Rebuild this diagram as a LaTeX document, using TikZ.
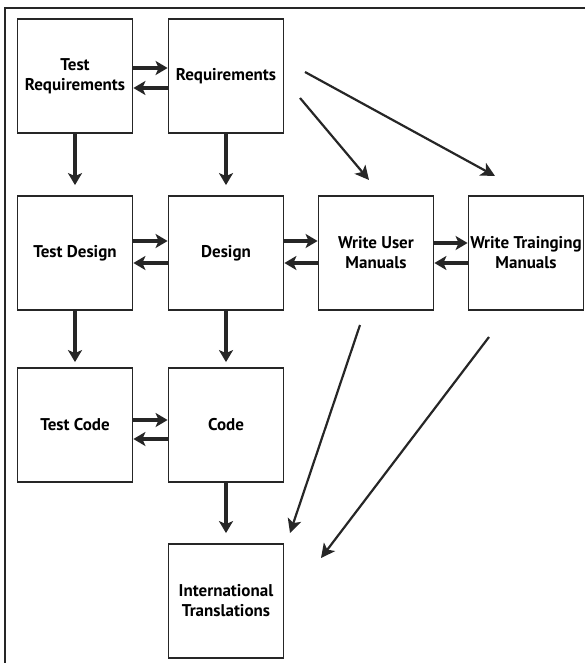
\documentclass[tikz,border=0pt]{standalone}
\usepackage{fontspec}
\setmainfont{PT Sans}
\usetikzlibrary{arrows.meta}
\newcommand{\lb}{115}
\newcommand{\hb}{114}
\definecolor{grisfonce}{RGB}{38,38,38}
\tikzstyle{boite}=[draw=grisfonce,line width=1.8pt,minimum width=\lb pt,minimum height=\hb pt,inner sep=0pt,align=center,text=black,font=\bfseries\fontsize{17}{20}\selectfont]
\tikzstyle{fleche}=[draw=grisfonce,line width=3.2pt,-{Stealth[length=12pt,width=14pt,inset=3pt]}]
\tikzstyle{longue}=[draw=grisfonce,line width=2.2pt,-{Stealth[length=14pt,width=14pt,inset=3.5pt]}]

\begin{document}
\begin{tikzpicture}[x=1pt,y=-1pt]

\useasboundingbox (0,0) rectangle (585,663);
% cadre
\draw[grisfonce,line width=1.4pt] (5,663) -- (5,8) -- (585,8);

% les boites
\node[boite] (testreq) at (75,76) {Test\\Requirements};
\node[boite] (req) at (226,76) {Requirements};
\node[boite] (testdes) at (75,253) {Test Design};
\node[boite] (des) at (226,253) {Design};
\node[boite] (usrman) at (376,253) {Write User\\Manuals};
\node[boite] (trnman) at (526,253) {Write Trainging\\Manuals};
\node[boite] (testcode) at (75,425) {Test Code};
\node[boite] (code) at (226,425) {Code};
\node[boite] (intl) at (226,601) {International\\Translations};

% aller-retour entre voisins
\draw[fleche] ([yshift=8pt]testreq.east) -- ([yshift=8pt]req.west);
\draw[fleche] ([yshift=-12pt]req.west) -- ([yshift=-12pt]testreq.east);
\draw[fleche] ([yshift=12pt]testdes.east) -- ([yshift=12pt]des.west);
\draw[fleche] ([yshift=-10pt]des.west) -- ([yshift=-10pt]testdes.east);
\draw[fleche] ([yshift=12pt]des.east) -- ([yshift=12pt]usrman.west);
\draw[fleche] ([yshift=-10pt]usrman.west) -- ([yshift=-10pt]des.east);
\draw[fleche] ([yshift=10pt]usrman.east) -- ([yshift=10pt]trnman.west);
\draw[fleche] ([yshift=-10pt]trnman.west) -- ([yshift=-10pt]usrman.east);
\draw[fleche] ([yshift=5pt]testcode.east) -- ([yshift=5pt]code.west);
\draw[fleche] ([yshift=-14pt]code.west) -- ([yshift=-14pt]testcode.east);

% vers le bas
\draw[fleche,shorten >=10pt] (testreq) -- (testdes);
\draw[fleche,shorten >=10pt] (req) -- (des);
\draw[fleche,shorten >=5pt] (testdes) -- (testcode);
\draw[fleche,shorten >=5pt] (des) -- (code);
\draw[fleche,shorten >=10pt] (code) -- (intl);

% les longues diagonales
\coordinate (d1) at (300,98);
\coordinate (d2) at (369,180);
\coordinate (d3) at (305,72);
\coordinate (d4) at (495,176);
\coordinate (d5) at (360,325);
\coordinate (d6) at (290,533);
\coordinate (d7) at (489,337);
\coordinate (d8) at (321,558);
\draw[longue] (d1) -- (d2);
\draw[longue] (d3) -- (d4);
\draw[longue] (d5) -- (d6);
\draw[longue] (d7) -- (d8);

\end{tikzpicture}
\end{document}
